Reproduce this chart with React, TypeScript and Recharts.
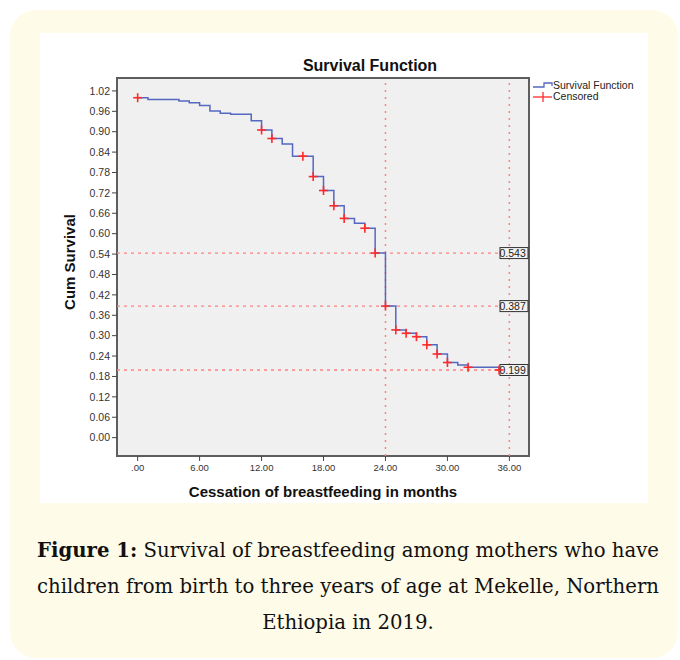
import React from 'react';
import { ComposedChart, Line, Scatter, XAxis, YAxis, ReferenceLine, ReferenceArea } from 'recharts';

// Step change times (months) and survival after each step
const STEP_TIMES = [0, 1, 4, 5, 6, 7, 8, 9, 11, 12, 13, 14, 15, 17, 18, 19, 20, 21, 22, 23, 24, 25, 26, 27, 28, 29, 30, 31, 32, 35];
const STEP_SURVIVAL = [1.0, 0.995, 0.99, 0.985, 0.977, 0.961, 0.954, 0.951, 0.932, 0.905, 0.88, 0.864, 0.828, 0.768, 0.727, 0.682, 0.645, 0.631, 0.616, 0.543, 0.387, 0.317, 0.307, 0.297, 0.273, 0.246, 0.221, 0.214, 0.207, 0.199];

// Censored observations
const CENSOR_TIMES = [0, 12, 13, 16, 17, 18, 19, 20, 22, 23, 24, 25, 26, 27, 28, 29, 30, 32, 35];
const CENSOR_SURVIVAL = [1.0, 0.905, 0.88, 0.828, 0.768, 0.727, 0.682, 0.645, 0.616, 0.543, 0.387, 0.317, 0.307, 0.297, 0.273, 0.246, 0.221, 0.207, 0.199];

const X_TICKS = [0, 6, 12, 18, 24, 30, 36];
const Y_TICKS = [0, 0.06, 0.12, 0.18, 0.24, 0.3, 0.36, 0.42, 0.48, 0.54, 0.6, 0.66, 0.72, 0.78, 0.84, 0.9, 0.96, 1.02];
const MARKED_SURVIVAL = [0.543, 0.387, 0.199];
const MARKED_TIMES = [24, 36];

const X_DOMAIN: [number, number] = [-2, 37.9];
const Y_DOMAIN: [number, number] = [-0.054, 1.058];

const stepData = STEP_TIMES.map((t, i) => ({ t, s: STEP_SURVIVAL[i] }));
const censorData = CENSOR_TIMES.map((t, i) => ({ t, s: CENSOR_SURVIVAL[i] }));

const SANS = '"Liberation Sans", Arial, sans-serif';
const BLUE = '#5468c0';
const RED = '#ff2a2a';
const DASH_RED = '#ff8080';

const Cross = (props: any) => {
  const { cx, cy } = props;
  if (cx == null || cy == null) return null;
  return (
    <g>
      <line x1={cx - 4.5} x2={cx + 4.5} y1={cy} y2={cy} stroke={RED} strokeWidth={1.6} />
      <line x1={cx} x2={cx} y1={cy - 4.5} y2={cy + 4.5} stroke={RED} strokeWidth={1.6} />
    </g>
  );
};

const makeBoxLabel = (text: string) => (props: any) => {
  const vb = props.viewBox || {};
  const right = (vb.x ?? 0) + (vb.width ?? 0);
  const y = vb.y ?? 0;
  return (
    <g>
      <rect x={right - 29} y={y - 5.5} width={28} height={11} fill="#f2f2f2" stroke="#333" strokeWidth={1} />
      <text x={right - 29.5} y={y + 4} fontSize={10.5} fontFamily={SANS} fill="#222">{text}</text>
    </g>
  );
};

const fmt = (v: number) => (v === 0 ? '.00' : v.toFixed(2));

export default function App() {
  return (
    <div style={{ position: 'absolute', left: 0, top: 0, width: 680, height: 660, overflow: 'hidden', background: '#fff' }}>
      <div style={{ position: 'absolute', left: 10, top: 10, width: 668, height: 648, background: '#fffbe9', borderRadius: 26 }} />
      <div style={{ position: 'absolute', left: 40, top: 33, width: 608, height: 470, background: '#fff' }} />
      <div style={{ position: 'absolute', left: 40, top: 33 }}>
        <ComposedChart width={608} height={470} margin={{ top: 45, right: 119, bottom: 17, left: 37 }}>
          <XAxis
            dataKey="t"
            type="number"
            domain={X_DOMAIN}
            ticks={X_TICKS}
            allowDataOverflow
            tickFormatter={fmt}
            height={30}
            axisLine={false}
            tickLine={{ stroke: '#444' }}
            tickSize={5}
            tickMargin={3}
            tick={{ fontSize: 9.5, fontFamily: SANS, fill: '#333' }}
          />
          <YAxis
            type="number"
            domain={Y_DOMAIN}
            ticks={Y_TICKS}
            allowDataOverflow
            tickFormatter={(v: number) => v.toFixed(2)}
            width={40}
            axisLine={false}
            tickLine={{ stroke: '#444' }}
            tickSize={5}
            tickMargin={2}
            tick={{ fontSize: 10.5, fontFamily: SANS, fill: '#333' }}
          />
          <ReferenceArea x1={X_DOMAIN[0]} x2={X_DOMAIN[1]} y1={Y_DOMAIN[0]} y2={Y_DOMAIN[1]} fill="#f0f0f0" fillOpacity={1} stroke="#5e5e5e" strokeWidth={2} />
          {MARKED_TIMES.map((t) => (
            <ReferenceLine key={'v' + t} x={t} stroke={DASH_RED} strokeDasharray="2 5" strokeWidth={1.5} />
          ))}
          {MARKED_SURVIVAL.map((s) => (
            <ReferenceLine key={'h' + s} y={s} stroke={DASH_RED} strokeDasharray="3 4" strokeWidth={1.3} label={makeBoxLabel(String(s))} />
          ))}
          <Line data={stepData} dataKey="s" type="stepAfter" stroke={BLUE} strokeWidth={1.5} dot={false} isAnimationActive={false} />
          <Scatter data={censorData} dataKey="s" shape={Cross} isAnimationActive={false} />
        </ComposedChart>
      </div>
      {/* title */}
      <div style={{ position: 'absolute', left: 240, width: 260, top: 56, textAlign: 'center', fontFamily: SANS, fontWeight: 'bold', fontSize: 16, lineHeight: '20px', color: '#111' }}>Survival Function</div>
      {/* y axis title */}
      <div style={{ position: 'absolute', left: 70, top: 262, width: 0, height: 0 }}>
        <div style={{ position: 'absolute', left: -80, top: -10, width: 160, textAlign: 'center', transform: 'rotate(-90deg)', fontFamily: SANS, fontWeight: 'bold', fontSize: 15, lineHeight: '20px', color: '#111' }}>Cum Survival</div>
      </div>
      {/* x axis title */}
      <div style={{ position: 'absolute', left: 123, width: 400, top: 482, textAlign: 'center', fontFamily: SANS, fontWeight: 'bold', fontSize: 15, lineHeight: '20px', color: '#111' }}>Cessation of breastfeeding in months</div>
      {/* legend */}
      <svg style={{ position: 'absolute', left: 530, top: 78 }} width={30} height={26}>
        <path d="M3,9 H14 V5 H22 V8" fill="none" stroke={BLUE} strokeWidth={1.3} />
        <line x1={3} x2={22} y1={19} y2={19} stroke={RED} strokeWidth={1.3} />
        <line x1={13} x2={13} y1={14} y2={24} stroke={RED} strokeWidth={1.3} />
      </svg>
      <div style={{ position: 'absolute', left: 553, top: 80, fontFamily: SANS, fontSize: 10.5, lineHeight: '11px', color: '#222' }}>
        <div>Survival Function</div>
        <div>Censored</div>
      </div>
      {/* caption */}
      <div style={{ position: 'absolute', left: 0, width: 696, top: 533, textAlign: 'center', fontFamily: '"DejaVu Serif", serif', fontSize: 19.7, lineHeight: '36px', color: '#111' }}>
        <b>Figure 1:</b> Survival of breastfeeding among mothers who have<br />
        children from birth to three years of age at Mekelle, Northern<br />
        Ethiopia in 2019.
      </div>
    </div>
  );
}
